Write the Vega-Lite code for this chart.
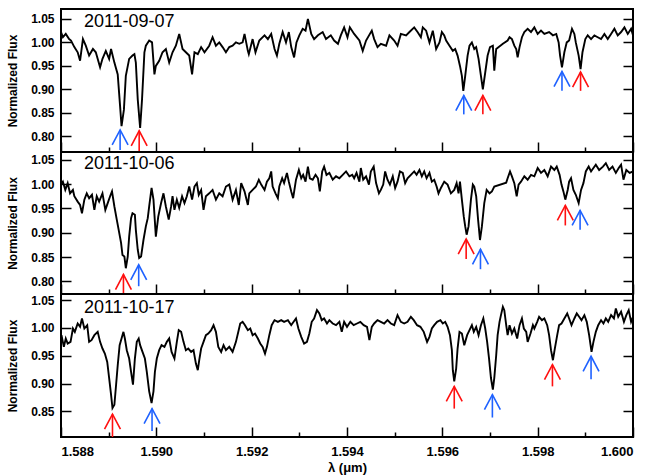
{
"$schema": "https://vega.github.io/schema/vega-lite/v6.json",
"padding": {"left": 4, "top": 8, "right": 19, "bottom": 4},
"bounds": "flush",
"background": "white",
"config": {
  "view": {"stroke": "black", "strokeWidth": 2},
  "concat": {"spacing": 0},
  "font": "Liberation Sans",
  "axis": {"grid": false, "domain": false, "tickColor": "black", "tickWidth": 1.5, "labelFont": "Liberation Sans", "labelFontWeight": "bold", "labelColor": "black", "titleFont": "Liberation Sans", "titleFontWeight": "bold", "titleColor": "black"}
},
"datasets": {
"spec": [
{"p":1,"w":1.58800,"f":1.022},{"p":1,"w":1.58804,"f":1.011},{"p":1,"w":1.58810,"f":1.018},{"p":1,"w":1.58817,"f":1.007},{"p":1,"w":1.58821,"f":1.004},{"p":1,"w":1.58828,"f":0.990},{"p":1,"w":1.58835,"f":0.979},{"p":1,"w":1.58840,"f":0.961},{"p":1,"w":1.58846,"f":1.007},{"p":1,"w":1.58852,"f":0.993},{"p":1,"w":1.58859,"f":0.972},{"p":1,"w":1.58867,"f":0.986},{"p":1,"w":1.58873,"f":0.979},{"p":1,"w":1.58882,"f":0.947},{"p":1,"w":1.58887,"f":0.965},{"p":1,"w":1.58894,"f":0.982},{"p":1,"w":1.58901,"f":0.965},{"p":1,"w":1.58905,"f":0.986},{"p":1,"w":1.58912,"f":0.957},{"p":1,"w":1.58919,"f":0.932},{"p":1,"w":1.58924,"f":0.864},{"p":1,"w":1.58927,"f":0.822},{"p":1,"w":1.58932,"f":0.857},{"p":1,"w":1.58936,"f":0.929},{"p":1,"w":1.58943,"f":0.965},{"p":1,"w":1.58950,"f":0.972},{"p":1,"w":1.58954,"f":0.975},{"p":1,"w":1.58957,"f":0.957},{"p":1,"w":1.58961,"f":0.879},{"p":1,"w":1.58966,"f":0.818},{"p":1,"w":1.58970,"f":0.879},{"p":1,"w":1.58975,"f":0.979},{"p":1,"w":1.58978,"f":0.993},{"p":1,"w":1.58985,"f":1.004},{"p":1,"w":1.58991,"f":1.000},{"p":1,"w":1.58996,"f":0.932},{"p":1,"w":1.58999,"f":0.950},{"p":1,"w":1.59006,"f":0.961},{"p":1,"w":1.59013,"f":0.979},{"p":1,"w":1.59020,"f":0.986},{"p":1,"w":1.59027,"f":0.957},{"p":1,"w":1.59034,"f":0.979},{"p":1,"w":1.59041,"f":0.993},{"p":1,"w":1.59048,"f":1.018},{"p":1,"w":1.59055,"f":0.986},{"p":1,"w":1.59062,"f":0.979},{"p":1,"w":1.59069,"f":0.972},{"p":1,"w":1.59075,"f":0.932},{"p":1,"w":1.59080,"f":0.979},{"p":1,"w":1.59087,"f":0.975},{"p":1,"w":1.59094,"f":0.990},{"p":1,"w":1.59101,"f":0.979},{"p":1,"w":1.59111,"f":0.993},{"p":1,"w":1.59118,"f":1.011},{"p":1,"w":1.59125,"f":0.993},{"p":1,"w":1.59132,"f":1.000},{"p":1,"w":1.59139,"f":0.990},{"p":1,"w":1.59146,"f":0.979},{"p":1,"w":1.59153,"f":0.990},{"p":1,"w":1.59160,"f":0.993},{"p":1,"w":1.59167,"f":1.000},{"p":1,"w":1.59174,"f":0.997},{"p":1,"w":1.59181,"f":1.000},{"p":1,"w":1.59185,"f":1.018},{"p":1,"w":1.59192,"f":0.982},{"p":1,"w":1.59194,"f":0.975},{"p":1,"w":1.59202,"f":1.007},{"p":1,"w":1.59208,"f":0.979},{"p":1,"w":1.59216,"f":1.004},{"p":1,"w":1.59227,"f":1.015},{"p":1,"w":1.59234,"f":1.007},{"p":1,"w":1.59241,"f":1.018},{"p":1,"w":1.59248,"f":0.986},{"p":1,"w":1.59253,"f":0.972},{"p":1,"w":1.59258,"f":0.997},{"p":1,"w":1.59265,"f":1.022},{"p":1,"w":1.59272,"f":1.000},{"p":1,"w":1.59278,"f":1.022},{"p":1,"w":1.59283,"f":0.990},{"p":1,"w":1.59289,"f":0.968},{"p":1,"w":1.59294,"f":1.000},{"p":1,"w":1.59300,"f":1.015},{"p":1,"w":1.59307,"f":1.029},{"p":1,"w":1.59313,"f":1.025},{"p":1,"w":1.59318,"f":1.050},{"p":1,"w":1.59325,"f":1.018},{"p":1,"w":1.59331,"f":1.007},{"p":1,"w":1.59339,"f":1.015},{"p":1,"w":1.59349,"f":1.022},{"p":1,"w":1.59356,"f":1.007},{"p":1,"w":1.59366,"f":1.015},{"p":1,"w":1.59373,"f":1.004},{"p":1,"w":1.59381,"f":0.997},{"p":1,"w":1.59387,"f":1.015},{"p":1,"w":1.59394,"f":1.032},{"p":1,"w":1.59401,"f":1.011},{"p":1,"w":1.59406,"f":1.032},{"p":1,"w":1.59415,"f":1.018},{"p":1,"w":1.59426,"f":1.004},{"p":1,"w":1.59433,"f":0.982},{"p":1,"w":1.59440,"f":1.004},{"p":1,"w":1.59452,"f":1.025},{"p":1,"w":1.59457,"f":1.007},{"p":1,"w":1.59464,"f":0.990},{"p":1,"w":1.59471,"f":0.997},{"p":1,"w":1.59482,"f":0.993},{"p":1,"w":1.59489,"f":1.015},{"p":1,"w":1.59499,"f":1.004},{"p":1,"w":1.59506,"f":0.993},{"p":1,"w":1.59513,"f":1.018},{"p":1,"w":1.59524,"f":1.015},{"p":1,"w":1.59531,"f":1.022},{"p":1,"w":1.59541,"f":1.032},{"p":1,"w":1.59548,"f":1.022},{"p":1,"w":1.59555,"f":1.011},{"p":1,"w":1.59559,"f":1.032},{"p":1,"w":1.59566,"f":1.025},{"p":1,"w":1.59573,"f":1.000},{"p":1,"w":1.59580,"f":1.025},{"p":1,"w":1.59587,"f":0.986},{"p":1,"w":1.59594,"f":1.000},{"p":1,"w":1.59599,"f":1.022},{"p":1,"w":1.59604,"f":1.015},{"p":1,"w":1.59608,"f":1.004},{"p":1,"w":1.59615,"f":0.993},{"p":1,"w":1.59622,"f":0.982},{"p":1,"w":1.59627,"f":0.986},{"p":1,"w":1.59632,"f":0.972},{"p":1,"w":1.59637,"f":0.950},{"p":1,"w":1.59641,"f":0.929},{"p":1,"w":1.59644,"f":0.897},{"p":1,"w":1.59648,"f":0.929},{"p":1,"w":1.59653,"f":0.972},{"p":1,"w":1.59657,"f":0.993},{"p":1,"w":1.59662,"f":1.000},{"p":1,"w":1.59667,"f":0.986},{"p":1,"w":1.59671,"f":0.990},{"p":1,"w":1.59676,"f":0.965},{"p":1,"w":1.59681,"f":0.929},{"p":1,"w":1.59685,"f":0.900},{"p":1,"w":1.59690,"f":0.936},{"p":1,"w":1.59695,"f":0.972},{"p":1,"w":1.59700,"f":0.990},{"p":1,"w":1.59706,"f":0.993},{"p":1,"w":1.59709,"f":0.940},{"p":1,"w":1.59713,"f":0.986},{"p":1,"w":1.59727,"f":0.997},{"p":1,"w":1.59737,"f":1.004},{"p":1,"w":1.59741,"f":1.011},{"p":1,"w":1.59746,"f":1.007},{"p":1,"w":1.59751,"f":0.993},{"p":1,"w":1.59755,"f":0.986},{"p":1,"w":1.59758,"f":0.968},{"p":1,"w":1.59762,"f":0.990},{"p":1,"w":1.59767,"f":1.011},{"p":1,"w":1.59772,"f":1.022},{"p":1,"w":1.59779,"f":1.029},{"p":1,"w":1.59786,"f":1.022},{"p":1,"w":1.59793,"f":1.032},{"p":1,"w":1.59800,"f":1.018},{"p":1,"w":1.59807,"f":1.025},{"p":1,"w":1.59814,"f":1.018},{"p":1,"w":1.59824,"f":1.022},{"p":1,"w":1.59832,"f":1.015},{"p":1,"w":1.59839,"f":1.018},{"p":1,"w":1.59844,"f":1.000},{"p":1,"w":1.59847,"f":0.972},{"p":1,"w":1.59851,"f":0.947},{"p":1,"w":1.59856,"f":0.979},{"p":1,"w":1.59861,"f":1.000},{"p":1,"w":1.59866,"f":1.004},{"p":1,"w":1.59872,"f":1.029},{"p":1,"w":1.59877,"f":1.018},{"p":1,"w":1.59880,"f":1.000},{"p":1,"w":1.59886,"f":0.972},{"p":1,"w":1.59890,"f":0.943},{"p":1,"w":1.59894,"f":0.979},{"p":1,"w":1.59900,"f":1.007},{"p":1,"w":1.59905,"f":1.015},{"p":1,"w":1.59912,"f":1.007},{"p":1,"w":1.59919,"f":1.015},{"p":1,"w":1.59926,"f":1.011},{"p":1,"w":1.59933,"f":1.007},{"p":1,"w":1.59940,"f":1.018},{"p":1,"w":1.59947,"f":1.007},{"p":1,"w":1.59954,"f":1.018},{"p":1,"w":1.59961,"f":1.029},{"p":1,"w":1.59968,"f":1.015},{"p":1,"w":1.59975,"f":1.022},{"p":1,"w":1.59982,"f":1.032},{"p":1,"w":1.59989,"f":1.018},{"p":1,"w":1.59996,"f":1.029},{"p":1,"w":1.60000,"f":1.015},
{"p":2,"w":1.58800,"f":0.999},{"p":2,"w":1.58804,"f":1.005},{"p":2,"w":1.58809,"f":0.988},{"p":2,"w":1.58814,"f":1.002},{"p":2,"w":1.58819,"f":0.981},{"p":2,"w":1.58825,"f":0.988},{"p":2,"w":1.58828,"f":0.975},{"p":2,"w":1.58835,"f":0.964},{"p":2,"w":1.58840,"f":0.957},{"p":2,"w":1.58844,"f":0.940},{"p":2,"w":1.58849,"f":0.968},{"p":2,"w":1.58854,"f":0.981},{"p":2,"w":1.58859,"f":0.971},{"p":2,"w":1.58865,"f":0.978},{"p":2,"w":1.58870,"f":0.947},{"p":2,"w":1.58875,"f":0.975},{"p":2,"w":1.58880,"f":0.964},{"p":2,"w":1.58887,"f":0.981},{"p":2,"w":1.58893,"f":0.947},{"p":2,"w":1.58898,"f":0.961},{"p":2,"w":1.58903,"f":0.975},{"p":2,"w":1.58907,"f":0.985},{"p":2,"w":1.58912,"f":0.954},{"p":2,"w":1.58917,"f":0.927},{"p":2,"w":1.58921,"f":0.906},{"p":2,"w":1.58926,"f":0.879},{"p":2,"w":1.58929,"f":0.854},{"p":2,"w":1.58933,"f":0.851},{"p":2,"w":1.58936,"f":0.827},{"p":2,"w":1.58940,"f":0.851},{"p":2,"w":1.58943,"f":0.892},{"p":2,"w":1.58947,"f":0.930},{"p":2,"w":1.58950,"f":0.940},{"p":2,"w":1.58955,"f":0.937},{"p":2,"w":1.58957,"f":0.906},{"p":2,"w":1.58961,"f":0.865},{"p":2,"w":1.58964,"f":0.848},{"p":2,"w":1.58968,"f":0.851},{"p":2,"w":1.58973,"f":0.885},{"p":2,"w":1.58978,"f":0.913},{"p":2,"w":1.58982,"f":0.930},{"p":2,"w":1.58985,"f":0.954},{"p":2,"w":1.58990,"f":0.992},{"p":2,"w":1.58994,"f":0.968},{"p":2,"w":1.58999,"f":0.892},{"p":2,"w":1.59004,"f":0.933},{"p":2,"w":1.59010,"f":0.961},{"p":2,"w":1.59015,"f":0.981},{"p":2,"w":1.59020,"f":0.954},{"p":2,"w":1.59026,"f":0.927},{"p":2,"w":1.59031,"f":0.954},{"p":2,"w":1.59034,"f":0.975},{"p":2,"w":1.59038,"f":0.947},{"p":2,"w":1.59043,"f":0.968},{"p":2,"w":1.59048,"f":0.951},{"p":2,"w":1.59054,"f":0.975},{"p":2,"w":1.59059,"f":0.961},{"p":2,"w":1.59064,"f":0.975},{"p":2,"w":1.59069,"f":0.995},{"p":2,"w":1.59075,"f":0.968},{"p":2,"w":1.59080,"f":0.995},{"p":2,"w":1.59085,"f":1.002},{"p":2,"w":1.59089,"f":0.978},{"p":2,"w":1.59094,"f":0.988},{"p":2,"w":1.59099,"f":0.947},{"p":2,"w":1.59104,"f":0.975},{"p":2,"w":1.59111,"f":0.981},{"p":2,"w":1.59118,"f":0.988},{"p":2,"w":1.59125,"f":0.968},{"p":2,"w":1.59132,"f":0.981},{"p":2,"w":1.59139,"f":0.975},{"p":2,"w":1.59146,"f":0.995},{"p":2,"w":1.59153,"f":0.999},{"p":2,"w":1.59160,"f":0.968},{"p":2,"w":1.59167,"f":0.988},{"p":2,"w":1.59173,"f":0.957},{"p":2,"w":1.59178,"f":1.002},{"p":2,"w":1.59185,"f":0.985},{"p":2,"w":1.59192,"f":0.957},{"p":2,"w":1.59195,"f":0.981},{"p":2,"w":1.59202,"f":0.988},{"p":2,"w":1.59209,"f":0.995},{"p":2,"w":1.59215,"f":1.009},{"p":2,"w":1.59220,"f":0.999},{"p":2,"w":1.59227,"f":0.988},{"p":2,"w":1.59232,"f":1.005},{"p":2,"w":1.59237,"f":1.012},{"p":2,"w":1.59241,"f":1.026},{"p":2,"w":1.59244,"f":0.995},{"p":2,"w":1.59250,"f":0.981},{"p":2,"w":1.59255,"f":0.971},{"p":2,"w":1.59258,"f":0.995},{"p":2,"w":1.59264,"f":1.012},{"p":2,"w":1.59268,"f":1.002},{"p":2,"w":1.59274,"f":1.023},{"p":2,"w":1.59278,"f":1.005},{"p":2,"w":1.59283,"f":0.985},{"p":2,"w":1.59287,"f":0.971},{"p":2,"w":1.59293,"f":1.009},{"p":2,"w":1.59299,"f":1.029},{"p":2,"w":1.59304,"f":1.012},{"p":2,"w":1.59308,"f":1.019},{"p":2,"w":1.59313,"f":1.005},{"p":2,"w":1.59318,"f":1.036},{"p":2,"w":1.59322,"f":1.012},{"p":2,"w":1.59328,"f":1.009},{"p":2,"w":1.59334,"f":1.019},{"p":2,"w":1.59339,"f":1.012},{"p":2,"w":1.59343,"f":0.985},{"p":2,"w":1.59348,"f":1.026},{"p":2,"w":1.59352,"f":1.036},{"p":2,"w":1.59357,"f":1.019},{"p":2,"w":1.59363,"f":1.023},{"p":2,"w":1.59370,"f":1.009},{"p":2,"w":1.59377,"f":1.016},{"p":2,"w":1.59384,"f":1.012},{"p":2,"w":1.59391,"f":1.019},{"p":2,"w":1.59398,"f":1.026},{"p":2,"w":1.59405,"f":1.016},{"p":2,"w":1.59411,"f":1.019},{"p":2,"w":1.59415,"f":1.012},{"p":2,"w":1.59420,"f":1.023},{"p":2,"w":1.59426,"f":1.005},{"p":2,"w":1.59429,"f":1.033},{"p":2,"w":1.59434,"f":1.009},{"p":2,"w":1.59440,"f":1.016},{"p":2,"w":1.59446,"f":0.999},{"p":2,"w":1.59450,"f":1.026},{"p":2,"w":1.59456,"f":1.036},{"p":2,"w":1.59461,"f":1.002},{"p":2,"w":1.59467,"f":0.981},{"p":2,"w":1.59471,"f":0.988},{"p":2,"w":1.59476,"f":0.999},{"p":2,"w":1.59480,"f":1.026},{"p":2,"w":1.59485,"f":1.009},{"p":2,"w":1.59490,"f":0.999},{"p":2,"w":1.59496,"f":1.016},{"p":2,"w":1.59501,"f":0.992},{"p":2,"w":1.59506,"f":1.005},{"p":2,"w":1.59511,"f":1.026},{"p":2,"w":1.59517,"f":1.023},{"p":2,"w":1.59522,"f":1.002},{"p":2,"w":1.59527,"f":1.012},{"p":2,"w":1.59534,"f":1.019},{"p":2,"w":1.59541,"f":1.026},{"p":2,"w":1.59546,"f":1.019},{"p":2,"w":1.59552,"f":1.029},{"p":2,"w":1.59557,"f":1.016},{"p":2,"w":1.59562,"f":1.026},{"p":2,"w":1.59567,"f":1.012},{"p":2,"w":1.59573,"f":1.023},{"p":2,"w":1.59578,"f":1.005},{"p":2,"w":1.59583,"f":1.009},{"p":2,"w":1.59588,"f":0.995},{"p":2,"w":1.59592,"f":0.981},{"p":2,"w":1.59597,"f":0.992},{"p":2,"w":1.59604,"f":1.005},{"p":2,"w":1.59611,"f":0.999},{"p":2,"w":1.59618,"f":0.981},{"p":2,"w":1.59625,"f":0.988},{"p":2,"w":1.59630,"f":1.002},{"p":2,"w":1.59634,"f":0.981},{"p":2,"w":1.59637,"f":1.005},{"p":2,"w":1.59641,"f":0.968},{"p":2,"w":1.59645,"f":0.933},{"p":2,"w":1.59648,"f":0.913},{"p":2,"w":1.59651,"f":0.896},{"p":2,"w":1.59655,"f":0.913},{"p":2,"w":1.59660,"f":0.968},{"p":2,"w":1.59664,"f":0.999},{"p":2,"w":1.59667,"f":0.995},{"p":2,"w":1.59671,"f":0.975},{"p":2,"w":1.59675,"f":0.927},{"p":2,"w":1.59679,"f":0.885},{"p":2,"w":1.59683,"f":0.913},{"p":2,"w":1.59688,"f":0.961},{"p":2,"w":1.59693,"f":0.988},{"p":2,"w":1.59699,"f":0.981},{"p":2,"w":1.59704,"f":0.985},{"p":2,"w":1.59709,"f":0.995},{"p":2,"w":1.59734,"f":1.003},{"p":2,"w":1.59737,"f":1.012},{"p":2,"w":1.59742,"f":1.026},{"p":2,"w":1.59746,"f":1.016},{"p":2,"w":1.59751,"f":1.002},{"p":2,"w":1.59756,"f":0.975},{"p":2,"w":1.59760,"f":0.999},{"p":2,"w":1.59765,"f":1.005},{"p":2,"w":1.59772,"f":1.016},{"p":2,"w":1.59779,"f":1.009},{"p":2,"w":1.59786,"f":1.019},{"p":2,"w":1.59793,"f":1.016},{"p":2,"w":1.59800,"f":1.033},{"p":2,"w":1.59807,"f":1.023},{"p":2,"w":1.59814,"f":1.029},{"p":2,"w":1.59821,"f":1.016},{"p":2,"w":1.59828,"f":1.036},{"p":2,"w":1.59835,"f":1.029},{"p":2,"w":1.59840,"f":1.036},{"p":2,"w":1.59846,"f":1.019},{"p":2,"w":1.59850,"f":0.999},{"p":2,"w":1.59854,"f":0.985},{"p":2,"w":1.59858,"f":0.968},{"p":2,"w":1.59863,"f":0.988},{"p":2,"w":1.59866,"f":1.005},{"p":2,"w":1.59870,"f":1.012},{"p":2,"w":1.59875,"f":0.988},{"p":2,"w":1.59880,"f":0.978},{"p":2,"w":1.59886,"f":0.961},{"p":2,"w":1.59891,"f":0.988},{"p":2,"w":1.59896,"f":1.002},{"p":2,"w":1.59901,"f":1.026},{"p":2,"w":1.59907,"f":1.036},{"p":2,"w":1.59912,"f":1.026},{"p":2,"w":1.59917,"f":1.033},{"p":2,"w":1.59922,"f":1.040},{"p":2,"w":1.59929,"f":1.029},{"p":2,"w":1.59937,"f":1.036},{"p":2,"w":1.59943,"f":1.043},{"p":2,"w":1.59950,"f":1.029},{"p":2,"w":1.59957,"f":1.036},{"p":2,"w":1.59964,"f":1.023},{"p":2,"w":1.59970,"f":1.033},{"p":2,"w":1.59975,"f":1.040},{"p":2,"w":1.59980,"f":1.009},{"p":2,"w":1.59986,"f":1.029},{"p":2,"w":1.59993,"f":1.023},{"p":2,"w":1.60000,"f":1.026},
{"p":3,"w":1.58801,"f":0.987},{"p":3,"w":1.58806,"f":0.966},{"p":3,"w":1.58810,"f":0.981},{"p":3,"w":1.58814,"f":0.972},{"p":3,"w":1.58820,"f":0.975},{"p":3,"w":1.58825,"f":0.999},{"p":3,"w":1.58829,"f":0.993},{"p":3,"w":1.58835,"f":1.008},{"p":3,"w":1.58840,"f":1.002},{"p":3,"w":1.58844,"f":1.017},{"p":3,"w":1.58849,"f":0.999},{"p":3,"w":1.58855,"f":1.005},{"p":3,"w":1.58859,"f":0.975},{"p":3,"w":1.58864,"f":0.978},{"p":3,"w":1.58870,"f":0.987},{"p":3,"w":1.58877,"f":0.993},{"p":3,"w":1.58882,"f":0.975},{"p":3,"w":1.58887,"f":0.963},{"p":3,"w":1.58892,"f":0.954},{"p":3,"w":1.58897,"f":0.939},{"p":3,"w":1.58901,"f":0.910},{"p":3,"w":1.58905,"f":0.880},{"p":3,"w":1.58908,"f":0.856},{"p":3,"w":1.58912,"f":0.862},{"p":3,"w":1.58915,"f":0.892},{"p":3,"w":1.58919,"f":0.933},{"p":3,"w":1.58923,"f":0.969},{"p":3,"w":1.58927,"f":0.981},{"p":3,"w":1.58931,"f":0.993},{"p":3,"w":1.58934,"f":0.981},{"p":3,"w":1.58938,"f":0.960},{"p":3,"w":1.58943,"f":0.945},{"p":3,"w":1.58947,"f":0.921},{"p":3,"w":1.58951,"f":0.898},{"p":3,"w":1.58955,"f":0.945},{"p":3,"w":1.58959,"f":0.975},{"p":3,"w":1.58963,"f":0.981},{"p":3,"w":1.58966,"f":0.969},{"p":3,"w":1.58971,"f":0.957},{"p":3,"w":1.58976,"f":0.945},{"p":3,"w":1.58980,"f":0.921},{"p":3,"w":1.58985,"f":0.886},{"p":3,"w":1.58990,"f":0.865},{"p":3,"w":1.58994,"f":0.886},{"p":3,"w":1.58997,"f":0.921},{"p":3,"w":1.59001,"f":0.945},{"p":3,"w":1.59006,"f":0.960},{"p":3,"w":1.59011,"f":0.969},{"p":3,"w":1.59017,"f":0.966},{"p":3,"w":1.59022,"f":0.975},{"p":3,"w":1.59027,"f":0.981},{"p":3,"w":1.59032,"f":0.957},{"p":3,"w":1.59038,"f":0.945},{"p":3,"w":1.59043,"f":0.975},{"p":3,"w":1.59047,"f":0.996},{"p":3,"w":1.59052,"f":0.993},{"p":3,"w":1.59057,"f":0.975},{"p":3,"w":1.59062,"f":0.960},{"p":3,"w":1.59067,"f":0.963},{"p":3,"w":1.59073,"f":0.957},{"p":3,"w":1.59078,"f":0.960},{"p":3,"w":1.59083,"f":0.936},{"p":3,"w":1.59087,"f":0.924},{"p":3,"w":1.59090,"f":0.942},{"p":3,"w":1.59094,"f":0.963},{"p":3,"w":1.59099,"f":0.975},{"p":3,"w":1.59104,"f":0.987},{"p":3,"w":1.59109,"f":0.990},{"p":3,"w":1.59115,"f":0.996},{"p":3,"w":1.59120,"f":1.005},{"p":3,"w":1.59125,"f":0.993},{"p":3,"w":1.59130,"f":0.966},{"p":3,"w":1.59136,"f":0.957},{"p":3,"w":1.59141,"f":0.969},{"p":3,"w":1.59146,"f":0.960},{"p":3,"w":1.59153,"f":0.966},{"p":3,"w":1.59160,"f":0.957},{"p":3,"w":1.59167,"f":0.975},{"p":3,"w":1.59172,"f":0.993},{"p":3,"w":1.59176,"f":1.008},{"p":3,"w":1.59181,"f":1.011},{"p":3,"w":1.59186,"f":1.005},{"p":3,"w":1.59192,"f":0.996},{"p":3,"w":1.59197,"f":0.999},{"p":3,"w":1.59202,"f":0.987},{"p":3,"w":1.59207,"f":0.990},{"p":3,"w":1.59213,"f":0.981},{"p":3,"w":1.59218,"f":0.972},{"p":3,"w":1.59223,"f":0.966},{"p":3,"w":1.59228,"f":0.954},{"p":3,"w":1.59232,"f":0.966},{"p":3,"w":1.59237,"f":0.987},{"p":3,"w":1.59242,"f":1.005},{"p":3,"w":1.59248,"f":1.014},{"p":3,"w":1.59255,"f":1.011},{"p":3,"w":1.59262,"f":1.014},{"p":3,"w":1.59268,"f":1.011},{"p":3,"w":1.59276,"f":1.014},{"p":3,"w":1.59283,"f":1.005},{"p":3,"w":1.59288,"f":1.011},{"p":3,"w":1.59293,"f":1.017},{"p":3,"w":1.59298,"f":0.999},{"p":3,"w":1.59304,"f":0.984},{"p":3,"w":1.59310,"f":0.972},{"p":3,"w":1.59316,"f":0.975},{"p":3,"w":1.59321,"f":0.990},{"p":3,"w":1.59326,"f":1.011},{"p":3,"w":1.59331,"f":1.017},{"p":3,"w":1.59337,"f":1.032},{"p":3,"w":1.59342,"f":1.026},{"p":3,"w":1.59347,"f":1.014},{"p":3,"w":1.59352,"f":1.017},{"p":3,"w":1.59358,"f":1.008},{"p":3,"w":1.59363,"f":1.014},{"p":3,"w":1.59370,"f":1.008},{"p":3,"w":1.59377,"f":1.005},{"p":3,"w":1.59384,"f":1.011},{"p":3,"w":1.59389,"f":0.993},{"p":3,"w":1.59394,"f":1.011},{"p":3,"w":1.59400,"f":1.002},{"p":3,"w":1.59407,"f":1.011},{"p":3,"w":1.59414,"f":1.005},{"p":3,"w":1.59421,"f":1.008},{"p":3,"w":1.59428,"f":1.011},{"p":3,"w":1.59435,"f":1.005},{"p":3,"w":1.59442,"f":1.002},{"p":3,"w":1.59447,"f":0.978},{"p":3,"w":1.59452,"f":1.002},{"p":3,"w":1.59457,"f":1.008},{"p":3,"w":1.59464,"f":1.014},{"p":3,"w":1.59471,"f":1.011},{"p":3,"w":1.59478,"f":1.008},{"p":3,"w":1.59485,"f":1.014},{"p":3,"w":1.59492,"f":1.008},{"p":3,"w":1.59499,"f":1.005},{"p":3,"w":1.59506,"f":1.023},{"p":3,"w":1.59513,"f":1.011},{"p":3,"w":1.59520,"f":1.008},{"p":3,"w":1.59527,"f":1.011},{"p":3,"w":1.59534,"f":1.020},{"p":3,"w":1.59540,"f":1.014},{"p":3,"w":1.59547,"f":1.005},{"p":3,"w":1.59554,"f":1.002},{"p":3,"w":1.59561,"f":0.993},{"p":3,"w":1.59568,"f":0.975},{"p":3,"w":1.59573,"f":0.984},{"p":3,"w":1.59578,"f":0.999},{"p":3,"w":1.59583,"f":1.005},{"p":3,"w":1.59589,"f":1.011},{"p":3,"w":1.59596,"f":1.014},{"p":3,"w":1.59601,"f":1.008},{"p":3,"w":1.59606,"f":1.011},{"p":3,"w":1.59611,"f":1.002},{"p":3,"w":1.59616,"f":0.987},{"p":3,"w":1.59620,"f":0.960},{"p":3,"w":1.59622,"f":0.924},{"p":3,"w":1.59625,"f":0.904},{"p":3,"w":1.59629,"f":0.927},{"p":3,"w":1.59632,"f":0.963},{"p":3,"w":1.59636,"f":0.993},{"p":3,"w":1.59641,"f":0.990},{"p":3,"w":1.59646,"f":0.969},{"p":3,"w":1.59652,"f":0.987},{"p":3,"w":1.59657,"f":0.996},{"p":3,"w":1.59662,"f":1.005},{"p":3,"w":1.59666,"f":0.993},{"p":3,"w":1.59671,"f":1.002},{"p":3,"w":1.59676,"f":0.987},{"p":3,"w":1.59681,"f":1.005},{"p":3,"w":1.59686,"f":1.017},{"p":3,"w":1.59690,"f":0.999},{"p":3,"w":1.59694,"f":0.975},{"p":3,"w":1.59698,"f":0.945},{"p":3,"w":1.59702,"f":0.910},{"p":3,"w":1.59706,"f":0.889},{"p":3,"w":1.59709,"f":0.910},{"p":3,"w":1.59713,"f":0.951},{"p":3,"w":1.59716,"f":0.987},{"p":3,"w":1.59720,"f":1.011},{"p":3,"w":1.59723,"f":1.023},{"p":3,"w":1.59727,"f":1.038},{"p":3,"w":1.59730,"f":1.032},{"p":3,"w":1.59734,"f":1.005},{"p":3,"w":1.59737,"f":0.987},{"p":3,"w":1.59741,"f":1.005},{"p":3,"w":1.59746,"f":0.990},{"p":3,"w":1.59751,"f":0.999},{"p":3,"w":1.59757,"f":0.981},{"p":3,"w":1.59762,"f":1.005},{"p":3,"w":1.59767,"f":1.017},{"p":3,"w":1.59771,"f":0.999},{"p":3,"w":1.59776,"f":0.993},{"p":3,"w":1.59779,"f":0.975},{"p":3,"w":1.59785,"f":0.990},{"p":3,"w":1.59790,"f":1.005},{"p":3,"w":1.59793,"f":0.999},{"p":3,"w":1.59799,"f":1.011},{"p":3,"w":1.59803,"f":1.020},{"p":3,"w":1.59809,"f":1.014},{"p":3,"w":1.59814,"f":1.017},{"p":3,"w":1.59820,"f":1.005},{"p":3,"w":1.59824,"f":0.987},{"p":3,"w":1.59828,"f":0.960},{"p":3,"w":1.59832,"f":0.942},{"p":3,"w":1.59836,"f":0.963},{"p":3,"w":1.59841,"f":0.987},{"p":3,"w":1.59845,"f":1.005},{"p":3,"w":1.59850,"f":1.008},{"p":3,"w":1.59856,"f":1.017},{"p":3,"w":1.59862,"f":1.026},{"p":3,"w":1.59866,"f":1.017},{"p":3,"w":1.59871,"f":1.005},{"p":3,"w":1.59877,"f":1.017},{"p":3,"w":1.59882,"f":1.026},{"p":3,"w":1.59887,"f":1.020},{"p":3,"w":1.59892,"f":1.014},{"p":3,"w":1.59898,"f":1.023},{"p":3,"w":1.59903,"f":1.011},{"p":3,"w":1.59908,"f":0.987},{"p":3,"w":1.59913,"f":0.957},{"p":3,"w":1.59917,"f":0.975},{"p":3,"w":1.59922,"f":0.993},{"p":3,"w":1.59927,"f":1.005},{"p":3,"w":1.59933,"f":1.014},{"p":3,"w":1.59938,"f":1.008},{"p":3,"w":1.59943,"f":1.017},{"p":3,"w":1.59948,"f":1.011},{"p":3,"w":1.59954,"f":1.023},{"p":3,"w":1.59960,"f":1.017},{"p":3,"w":1.59964,"f":1.035},{"p":3,"w":1.59969,"f":1.020},{"p":3,"w":1.59975,"f":1.029},{"p":3,"w":1.59981,"f":1.011},{"p":3,"w":1.59986,"f":1.023},{"p":3,"w":1.59991,"f":1.032},{"p":3,"w":1.59996,"f":1.011},{"p":3,"w":1.60000,"f":1.020}
],
"arrows": [
{"p":1,"w":1.58924,"tip":0.814,"tail":0.771,"c":"blue"},
{"p":1,"w":1.58964,"tip":0.812,"tail":0.768,"c":"red"},
{"p":1,"w":1.59645,"tip":0.887,"tail":0.847,"c":"blue"},
{"p":1,"w":1.59685,"tip":0.887,"tail":0.847,"c":"red"},
{"p":1,"w":1.59851,"tip":0.938,"tail":0.897,"c":"blue"},
{"p":1,"w":1.59890,"tip":0.937,"tail":0.897,"c":"red"},
{"p":2,"w":1.58931,"tip":0.814,"tail":0.775,"c":"red"},
{"p":2,"w":1.58963,"tip":0.834,"tail":0.790,"c":"blue"},
{"p":2,"w":1.59650,"tip":0.887,"tail":0.846,"c":"red"},
{"p":2,"w":1.59680,"tip":0.866,"tail":0.825,"c":"blue"},
{"p":2,"w":1.59858,"tip":0.956,"tail":0.915,"c":"red"},
{"p":2,"w":1.59889,"tip":0.946,"tail":0.906,"c":"blue"},
{"p":3,"w":1.58908,"tip":0.845,"tail":0.804,"c":"red"},
{"p":3,"w":1.58991,"tip":0.855,"tail":0.815,"c":"blue"},
{"p":3,"w":1.59625,"tip":0.895,"tail":0.855,"c":"red"},
{"p":3,"w":1.59705,"tip":0.880,"tail":0.839,"c":"blue"},
{"p":3,"w":1.59831,"tip":0.934,"tail":0.895,"c":"red"},
{"p":3,"w":1.59912,"tip":0.949,"tail":0.908,"c":"blue"}
],
"dates": [
{"p":1,"w":1.58848,"y":1.043,"t":"2011-09-07"},
{"p":2,"w":1.58848,"y":1.042,"t":"2011-10-06"},
{"p":3,"w":1.58848,"y":1.036,"t":"2011-10-17"}
]
},
"vconcat": [
{
 "width": 572, "height": 143,
 "resolve": {"axis": {"y": "independent"}},
 "layer": [
  {"data": {"name": "spec"}, "transform": [{"filter": "datum.p == 1"}],
   "mark": {"type": "line", "color": "black", "strokeWidth": 1.9, "clip": true},
   "encoding": {
    "x": {"field": "w", "type": "quantitative", "scale": {"domain": [1.588, 1.6], "nice": false, "zero": false},
          "axis": {"title": null, "labels": false, "values": [1.588,1.5885,1.589,1.5895,1.59,1.5905,1.591,1.5915,1.592,1.5925,1.593,1.5935,1.594,1.5945,1.595,1.5955,1.596,1.5965,1.597,1.5975,1.598,1.5985,1.599,1.5995,1.6],
                   "tickSize": {"condition": {"test": "abs(datum.value*500 - round(datum.value*500)) < 0.01", "value": -10}, "value": -5}}},
    "y": {"field": "f", "type": "quantitative", "scale": {"domain": [0.767, 1.071], "nice": false, "zero": false},
          "axis": {"title": "Normalized Flux", "values": [0.8,0.85,0.9,0.95,1.0,1.05], "format": ".2f", "tickSize": -10, "labelPadding": 17, "labelFontSize": 12, "titleFontSize": 12, "titleX": -42, "titleY": 71.5, "titleAngle": -90}}
   }},
  {"data": {"name": "arrows"}, "transform": [{"filter": "datum.p == 1"}],
   "mark": {"type": "rule", "strokeWidth": 1.6},
   "encoding": {
    "x": {"field": "w", "type": "quantitative"},
    "y": {"field": "tip", "type": "quantitative", "axis": {"orient": "right", "title": null, "labels": false, "values": [0.8,0.85,0.9,0.95,1.0,1.05], "tickSize": -10}},
    "y2": {"field": "tail"},
    "color": {"field": "c", "type": "nominal", "scale": {"domain": ["blue", "red"], "range": ["#1f62ff", "#ff1010"]}, "legend": null}
   }},
  {"data": {"name": "arrows"}, "transform": [{"filter": "datum.p == 1"}],
   "mark": {"type": "point", "shape": "M-0.53,1L0,0L0.53,1", "size": 900, "filled": false, "strokeWidth": 1.6, "opacity": 1},
   "encoding": {
    "x": {"field": "w", "type": "quantitative"},
    "y": {"field": "tip", "type": "quantitative", "axis": null},
    "color": {"field": "c", "type": "nominal", "scale": {"domain": ["blue", "red"], "range": ["#1f62ff", "#ff1010"]}, "legend": null}
   }},
  {"data": {"name": "dates"}, "transform": [{"filter": "datum.p == 1"}],
   "mark": {"type": "text", "align": "left", "baseline": "middle", "fontSize": 18, "font": "Liberation Sans", "color": "black"},
   "encoding": {
    "x": {"field": "w", "type": "quantitative"},
    "y": {"field": "y", "type": "quantitative", "axis": null},
    "text": {"field": "t"}
   }}
 ]
},
{
 "width": 572, "height": 142,
 "resolve": {"axis": {"y": "independent"}},
 "layer": [
  {"data": {"name": "spec"}, "transform": [{"filter": "datum.p == 2"}],
   "mark": {"type": "line", "color": "black", "strokeWidth": 1.9, "clip": true},
   "encoding": {
    "x": {"field": "w", "type": "quantitative", "scale": {"domain": [1.588, 1.6], "nice": false, "zero": false},
          "axis": {"title": null, "labels": false, "values": [1.588,1.5885,1.589,1.5895,1.59,1.5905,1.591,1.5915,1.592,1.5925,1.593,1.5935,1.594,1.5945,1.595,1.5955,1.596,1.5965,1.597,1.5975,1.598,1.5985,1.599,1.5995,1.6],
                   "tickSize": {"condition": {"test": "abs(datum.value*500 - round(datum.value*500)) < 0.01", "value": -10}, "value": -5}}},
    "y": {"field": "f", "type": "quantitative", "scale": {"domain": [0.774, 1.066], "nice": false, "zero": false},
          "axis": {"title": "Normalized Flux", "values": [0.8,0.85,0.9,0.95,1.0,1.05], "format": ".2f", "tickSize": -10, "labelPadding": 17, "labelFontSize": 12, "titleFontSize": 12, "titleX": -42, "titleY": 71, "titleAngle": -90}}
   }},
  {"data": {"name": "arrows"}, "transform": [{"filter": "datum.p == 2"}],
   "mark": {"type": "rule", "strokeWidth": 1.6},
   "encoding": {
    "x": {"field": "w", "type": "quantitative"},
    "y": {"field": "tip", "type": "quantitative", "axis": {"orient": "right", "title": null, "labels": false, "values": [0.8,0.85,0.9,0.95,1.0,1.05], "tickSize": -10}},
    "y2": {"field": "tail"},
    "color": {"field": "c", "type": "nominal", "scale": {"domain": ["blue", "red"], "range": ["#1f62ff", "#ff1010"]}, "legend": null}
   }},
  {"data": {"name": "arrows"}, "transform": [{"filter": "datum.p == 2"}],
   "mark": {"type": "point", "shape": "M-0.53,1L0,0L0.53,1", "size": 900, "filled": false, "strokeWidth": 1.6, "opacity": 1},
   "encoding": {
    "x": {"field": "w", "type": "quantitative"},
    "y": {"field": "tip", "type": "quantitative", "axis": null},
    "color": {"field": "c", "type": "nominal", "scale": {"domain": ["blue", "red"], "range": ["#1f62ff", "#ff1010"]}, "legend": null}
   }},
  {"data": {"name": "dates"}, "transform": [{"filter": "datum.p == 2"}],
   "mark": {"type": "text", "align": "left", "baseline": "middle", "fontSize": 18, "font": "Liberation Sans", "color": "black"},
   "encoding": {
    "x": {"field": "w", "type": "quantitative"},
    "y": {"field": "y", "type": "quantitative", "axis": null},
    "text": {"field": "t"}
   }}
 ]
},
{
 "width": 572, "height": 143,
 "resolve": {"axis": {"y": "independent"}},
 "layer": [
  {"data": {"name": "spec"}, "transform": [{"filter": "datum.p == 3"}],
   "mark": {"type": "line", "color": "black", "strokeWidth": 1.9, "clip": true},
   "encoding": {
    "x": {"field": "w", "type": "quantitative", "scale": {"domain": [1.588, 1.6], "nice": false, "zero": false},
          "axis": {"title": "λ (μm)", "titleFontSize": 13, "labelFontSize": 13, "format": ".3f", "labelPadding": 18, "titlePadding": 3,
                   "values": [1.588,1.5885,1.589,1.5895,1.59,1.5905,1.591,1.5915,1.592,1.5925,1.593,1.5935,1.594,1.5945,1.595,1.5955,1.596,1.5965,1.597,1.5975,1.598,1.5985,1.599,1.5995,1.6],
                   "labelExpr": "abs(datum.value*500 - round(datum.value*500)) < 0.01 ? datum.label : ''",
                   "tickSize": {"condition": {"test": "abs(datum.value*500 - round(datum.value*500)) < 0.01", "value": -10}, "value": -5}}},
    "y": {"field": "f", "type": "quantitative", "scale": {"domain": [0.804, 1.061], "nice": false, "zero": false},
          "axis": {"title": "Normalized Flux", "values": [0.85,0.9,0.95,1.0,1.05], "format": ".2f", "tickSize": -10, "labelPadding": 17, "labelFontSize": 12, "titleFontSize": 12, "titleX": -42, "titleY": 71.5, "titleAngle": -90}}
   }},
  {"data": {"name": "arrows"}, "transform": [{"filter": "datum.p == 3"}],
   "mark": {"type": "rule", "strokeWidth": 1.6},
   "encoding": {
    "x": {"field": "w", "type": "quantitative"},
    "y": {"field": "tip", "type": "quantitative", "axis": {"orient": "right", "title": null, "labels": false, "values": [0.85,0.9,0.95,1.0,1.05], "tickSize": -10}},
    "y2": {"field": "tail"},
    "color": {"field": "c", "type": "nominal", "scale": {"domain": ["blue", "red"], "range": ["#1f62ff", "#ff1010"]}, "legend": null}
   }},
  {"data": {"name": "arrows"}, "transform": [{"filter": "datum.p == 3"}],
   "mark": {"type": "point", "shape": "M-0.53,1L0,0L0.53,1", "size": 900, "filled": false, "strokeWidth": 1.6, "opacity": 1},
   "encoding": {
    "x": {"field": "w", "type": "quantitative"},
    "y": {"field": "tip", "type": "quantitative", "axis": null},
    "color": {"field": "c", "type": "nominal", "scale": {"domain": ["blue", "red"], "range": ["#1f62ff", "#ff1010"]}, "legend": null}
   }},
  {"data": {"name": "dates"}, "transform": [{"filter": "datum.p == 3"}],
   "mark": {"type": "text", "align": "left", "baseline": "middle", "fontSize": 18, "font": "Liberation Sans", "color": "black"},
   "encoding": {
    "x": {"field": "w", "type": "quantitative"},
    "y": {"field": "y", "type": "quantitative", "axis": null},
    "text": {"field": "t"}
   }}
 ]
}
]
}
